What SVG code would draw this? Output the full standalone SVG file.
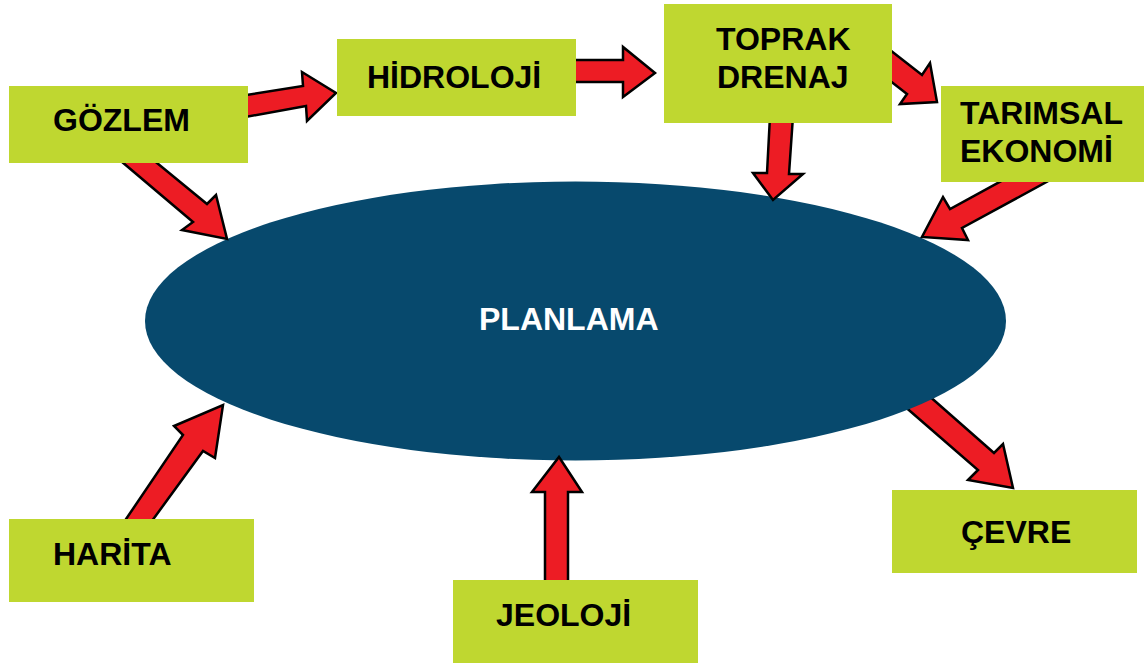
<svg xmlns="http://www.w3.org/2000/svg" width="1144" height="665" viewBox="0 0 1144 665">
<style>
.box{fill:#BFD730}
.lbl{font-family:"Liberation Sans",Arial,sans-serif;font-weight:bold;font-size:32px;fill:#000}
.arr{fill:#ED1C24;stroke:#000;stroke-width:2.5;stroke-linejoin:miter}
.core{fill:#07496D}
.core-lbl{font-family:"Liberation Sans",Arial,sans-serif;font-weight:bold;font-size:32px;fill:#fff}
</style>
<rect width="1144" height="665" fill="#fff"/>
<g id="connectors-back">
<polygon class="arr" points="895,398 978,470 968,480 1013,488 1003,444 994,453 919,387"/>
</g>
<g id="planlama">
<ellipse class="core" cx="575.5" cy="321" rx="430.5" ry="139.5"/>
<text class="core-lbl" x="479" y="330">PLANLAMA</text>
</g>
<g id="connectors">
<polygon class="arr" points="240,96 303,86 302,72 336,93 307,121 306,106 240,118"/>
<polygon class="arr" points="115,156 193,222 182,230 227,239 216,195 207,204 148.5,156"/>
<polygon class="arr" points="570,60 623,60 623,47 655,73 623,97 623,82 570,82"/>
<polygon class="arr" points="770,116 793,116 789,174 803,174 773,200 753,173 767,173"/>
<polygon class="arr" points="886.5,47.3 922,75 930,63 937,102 900,104 907,94 875.5,69.4"/>
<polygon class="arr" points="1013,174.6 950,209 943,197 922,237 968,240 962,228 1056.8,176.4"/>
<polygon class="arr" points="122,525 183,435 174,426 223,405 215,458 203,451 149,525"/>
<polygon class="arr" points="545,585 545,492 532,492 559,457 582,492 568,492 568,585"/>
</g>
<g id="gozlem">
<rect class="box" x="9" y="86" width="239" height="77"/>
<text class="lbl" x="53" y="131">GÖZLEM</text>
</g>
<g id="hidroloji">
<rect class="box" x="337" y="39" width="239" height="77"/>
<text class="lbl" x="367" y="88">HİDROLOJİ</text>
</g>
<g id="toprak-drenaj">
<rect class="box" x="664" y="4" width="228" height="119"/>
<text class="lbl" x="716" y="50">TOPRAK</text>
<text class="lbl" x="717" y="88">DRENAJ</text>
</g>
<g id="tarimsal-ekonomi">
<rect class="box" x="941" y="86" width="203" height="96"/>
<text class="lbl" x="960" y="124">TARIMSAL</text>
<text class="lbl" x="960" y="162">EKONOMİ</text>
</g>
<g id="cevre">
<rect class="box" x="892" y="490" width="245" height="83"/>
<text class="lbl" x="961" y="543">ÇEVRE</text>
</g>
<g id="harita">
<rect class="box" x="9" y="519" width="245" height="83"/>
<text class="lbl" x="53" y="565">HARİTA</text>
</g>
<g id="jeoloji">
<rect class="box" x="453" y="580" width="245" height="83"/>
<text class="lbl" x="496" y="626">JEOLOJİ</text>
</g>
</svg>
